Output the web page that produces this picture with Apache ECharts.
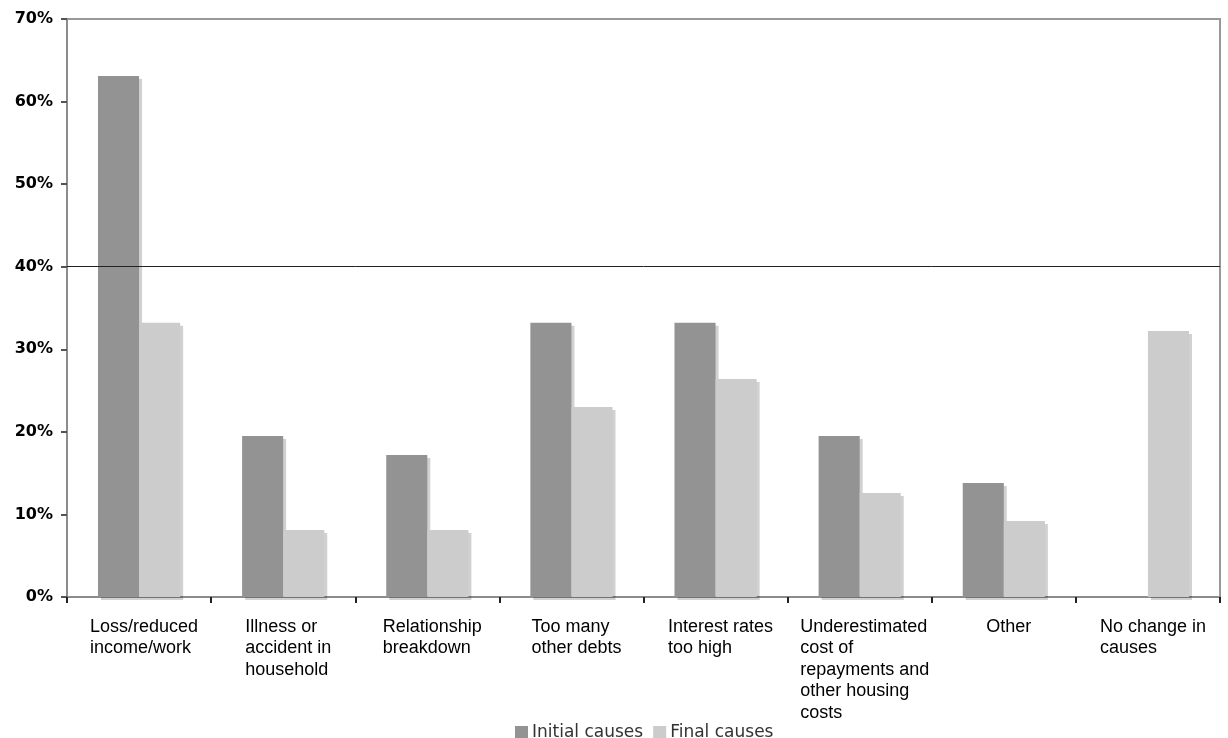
<!DOCTYPE html>
<html>
<head>
<meta charset="utf-8">
<script src="https://cdn.jsdelivr.net/npm/echarts@6/dist/echarts.min.js"></script>
<style>
html,body{margin:0;padding:0;background:#fff;}
#chart{width:1228px;height:738px;}
</style>
</head>
<body>
<div id="chart"></div>
<script>
var categories = [
  "Loss/reduced\nincome/work",
  "Illness or\naccident in\nhousehold",
  "Relationship\nbreakdown",
  "Too many\nother debts",
  "Interest rates\ntoo high",
  "Underestimated\ncost of\nrepayments and\nother housing\ncosts",
  "Other",
  "No change in\ncauses"
];
var initialCauses = [63.1, 19.5, 17.2, 33.2, 33.2, 19.5, 13.8, 0];
var finalCauses   = [33.2, 8.1, 8.1, 23.0, 26.4, 12.6, 9.2, 32.2];
var seriesNames = ["Initial causes", "Final causes"];
var referenceLine = 40;
var yTicks = { min: 0, max: 70, interval: 10 };

var chart = echarts.init(document.getElementById('chart'), null, {renderer: 'canvas'});
var shadow = { shadowColor: 'rgba(0,0,0,0.18)', shadowOffsetX: 3, shadowOffsetY: 3, shadowBlur: 0 };

chart.setOption({
  animation: false,
  backgroundColor: '#ffffff',
  grid: {
    left: 67, right: 8, top: 19, bottom: 141,
    show: true, borderColor: '#999999', borderWidth: 2, backgroundColor: 'transparent'
  },
  legend: {
    data: seriesNames,
    left: 510, top: 719,
    icon: 'rect', itemWidth: 13, itemHeight: 13, itemGap: 10,
    textStyle: { fontFamily: 'DejaVu Sans', fontSize: 17, color: '#333', padding: [0,0,0,-1] }
  },
  xAxis: {
    type: 'category',
    data: categories,
    axisLine: { show: true, lineStyle: { color: '#8c8c8c', width: 2 } },
    axisTick: { show: true, length: 6, lineStyle: { color: '#222', width: 2 } },
    axisLabel: {
      interval: 0,
      margin: 19,
      padding: [0, 0, 0, 10],
      formatter: function (v) {
        return v.split('\n').map(function (l) { return '{a|' + l + '}'; }).join('\n');
      },
      rich: {
        a: { fontFamily: 'Liberation Sans', fontSize: 18, lineHeight: 21.5, color: '#000', align: 'left' }
      }
    },
    splitLine: { show: false }
  },
  yAxis: {
    type: 'value',
    min: yTicks.min, max: yTicks.max, interval: yTicks.interval,
    axisLine: { show: true, lineStyle: { color: '#8c8c8c', width: 2 } },
    axisTick: { show: true, length: 6, lineStyle: { color: '#555', width: 2 } },
    axisLabel: {
      margin: 14,
      formatter: '{value}%',
      fontFamily: 'DejaVu Sans', fontWeight: 'bold', fontSize: 16, color: '#000'
    },
    splitLine: { show: false }
  },
  series: [
    {
      name: seriesNames[0], type: 'bar', data: initialCauses,
      barGap: '0%', barCategoryGap: '43%',
      itemStyle: Object.assign({ color: '#939393' }, shadow),
      markLine: {
        silent: true, symbol: 'none', label: { show: false },
        lineStyle: { color: '#222', width: 1, type: 'solid' },
        data: [{ yAxis: referenceLine }]
      }
    },
    {
      name: seriesNames[1], type: 'bar', data: finalCauses,
      barGap: '0%', barCategoryGap: '43%',
      itemStyle: Object.assign({ color: '#cccccc' }, shadow)
    }
  ]
});
</script>
</body>
</html>
